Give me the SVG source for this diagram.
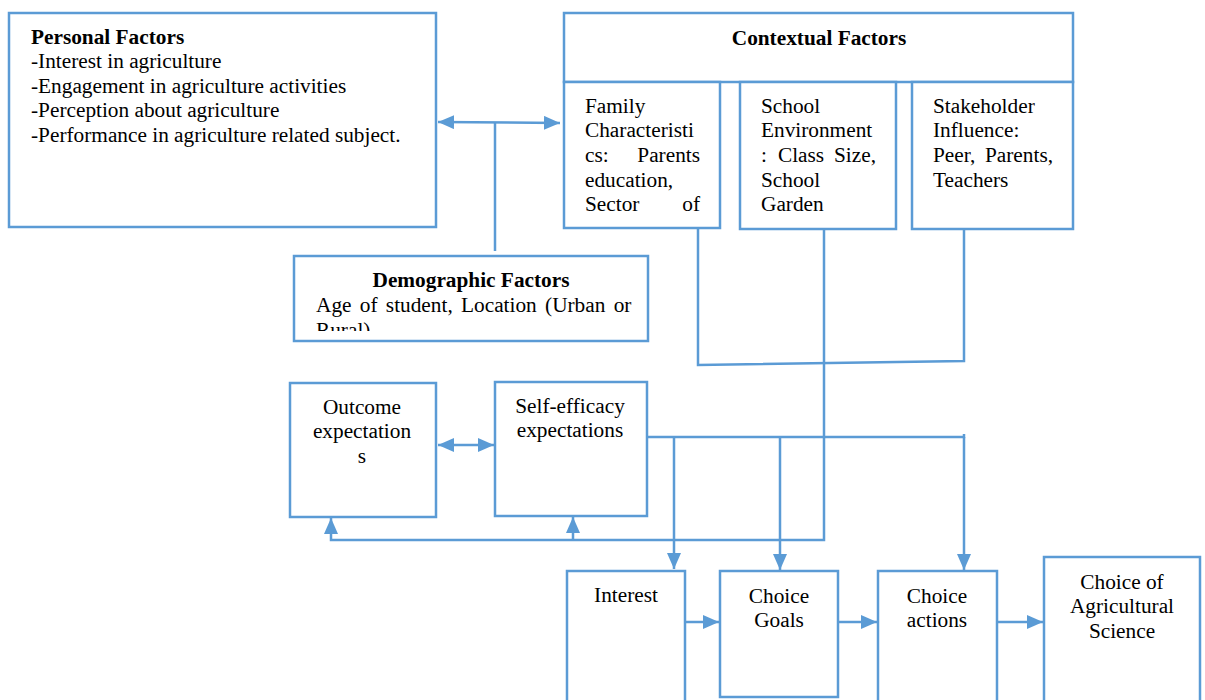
<svg xmlns="http://www.w3.org/2000/svg" width="1205" height="700" viewBox="0 0 1205 700">
<style>
.box{fill:#fff;stroke:#5B9BD5;stroke-width:2.5}
.ln{fill:none;stroke:#5B9BD5;stroke-width:2.5}
text{font-family:"Liberation Serif","Times New Roman",serif;font-size:21.3px;fill:#000}
.b{font-weight:bold}
.c{text-anchor:middle}
.r{text-anchor:end}
</style>
<defs>
<marker id="ah" markerUnits="userSpaceOnUse" markerWidth="16" markerHeight="14" refX="16" refY="7" orient="auto-start-reverse" viewBox="0 0 16 14">
<path d="M0,0 L16,7 L0,14 Z" fill="#5B9BD5"/>
</marker>
<clipPath id="demclip"><rect x="296" y="258" width="350" height="73"/></clipPath>
</defs>
<rect width="1205" height="700" fill="#fff"/>

<g id="connectors">
<line class="ln" x1="438" y1="122" x2="560" y2="123" marker-start="url(#ah)" marker-end="url(#ah)"/>
<line class="ln" x1="495" y1="122" x2="495" y2="251"/>
<polyline class="ln" points="698,228 698,365 964,361 964,229"/>
<polyline class="ln" points="824,229 824,540 331,540 331,518" marker-end="url(#ah)"/>
<line class="ln" x1="573" y1="540" x2="573" y2="517" marker-end="url(#ah)"/>
<line class="ln" x1="438" y1="445" x2="494" y2="445" marker-start="url(#ah)" marker-end="url(#ah)"/>
<polyline class="ln" points="647,437 964,437 964,434"/>
<line class="ln" x1="674" y1="437" x2="674" y2="569" marker-end="url(#ah)"/>
<line class="ln" x1="780" y1="437" x2="780" y2="570" marker-end="url(#ah)"/>
<line class="ln" x1="964" y1="437" x2="964" y2="570" marker-end="url(#ah)"/>
<line class="ln" x1="685" y1="622" x2="719" y2="622" marker-end="url(#ah)"/>
<line class="ln" x1="838" y1="622" x2="877" y2="622" marker-end="url(#ah)"/>
<line class="ln" x1="997" y1="622" x2="1043" y2="622" marker-end="url(#ah)"/>
</g>

<g id="personal">
<rect class="box" x="9" y="13" width="427" height="214"/>
<text x="31" y="44" class="b">Personal Factors</text>
<text x="31" y="68">-Interest in agriculture</text>
<text x="31" y="93">-Engagement in agriculture activities</text>
<text x="31" y="117">-Perception about agriculture</text>
<text x="31" y="142">-Performance in agriculture related subject.</text>
</g>

<g id="contextual">
<rect class="box" x="564" y="13" width="509" height="69"/>
<text x="819" y="45" class="b c">Contextual Factors</text>
</g>

<g id="family">
<rect class="box" x="564" y="82" width="156" height="146"/>
<text x="585" y="113">Family</text>
<text x="585" y="137">Characteristi</text>
<text x="585" y="162">cs:</text><text x="700" y="162" class="r">Parents</text>
<text x="585" y="187">education,</text>
<text x="585" y="211">Sector</text><text x="700" y="211" class="r">of</text>
</g>

<g id="school">
<rect class="box" x="740" y="82" width="156" height="147"/>
<text x="761" y="113">School</text>
<text x="761" y="137">Environment</text>
<text x="761" y="162">:</text><text x="778" y="162">Class</text><text x="876" y="162" class="r">Size,</text>
<text x="761" y="187">School</text>
<text x="761" y="211">Garden</text>
</g>

<g id="stakeholder">
<rect class="box" x="912" y="82" width="161" height="147"/>
<text x="933" y="113">Stakeholder</text>
<text x="933" y="137">Influence:</text>
<text x="933" y="162">Peer,</text><text x="1053" y="162" class="r">Parents,</text>
<text x="933" y="187">Teachers</text>
</g>

<g id="demographic">
<rect class="box" x="294" y="256" width="354" height="85"/>
<g clip-path="url(#demclip)">
<text x="471" y="287" class="b c">Demographic Factors</text>
<text x="316" y="312" word-spacing="3">Age of student, Location (Urban or</text>
<text x="316" y="337">Rural)</text>
</g>
</g>

<g id="outcome">
<rect class="box" x="290" y="383" width="146" height="134"/>
<text x="362" y="414" class="c">Outcome</text>
<text x="362" y="438" class="c">expectation</text>
<text x="362" y="463" class="c">s</text>
</g>

<g id="selfefficacy">
<rect class="box" x="495" y="382" width="152" height="134"/>
<text x="570" y="413" class="c">Self-efficacy</text>
<text x="570" y="437" class="c">expectations</text>
</g>

<g id="interest">
<rect class="box" x="567" y="571" width="118" height="140"/>
<text x="626" y="602" class="c">Interest</text>
</g>

<g id="goals">
<rect class="box" x="720" y="571" width="118" height="126"/>
<text x="779" y="603" class="c">Choice</text>
<text x="779" y="627" class="c">Goals</text>
</g>

<g id="actions">
<rect class="box" x="878" y="571" width="119" height="140"/>
<text x="937" y="603" class="c">Choice</text>
<text x="937" y="627" class="c">actions</text>
</g>

<g id="choiceAS">
<rect class="box" x="1044" y="557" width="156" height="154"/>
<text x="1122" y="589" class="c">Choice of</text>
<text x="1122" y="613" class="c">Agricultural</text>
<text x="1122" y="638" class="c">Science</text>
</g>
</svg>
